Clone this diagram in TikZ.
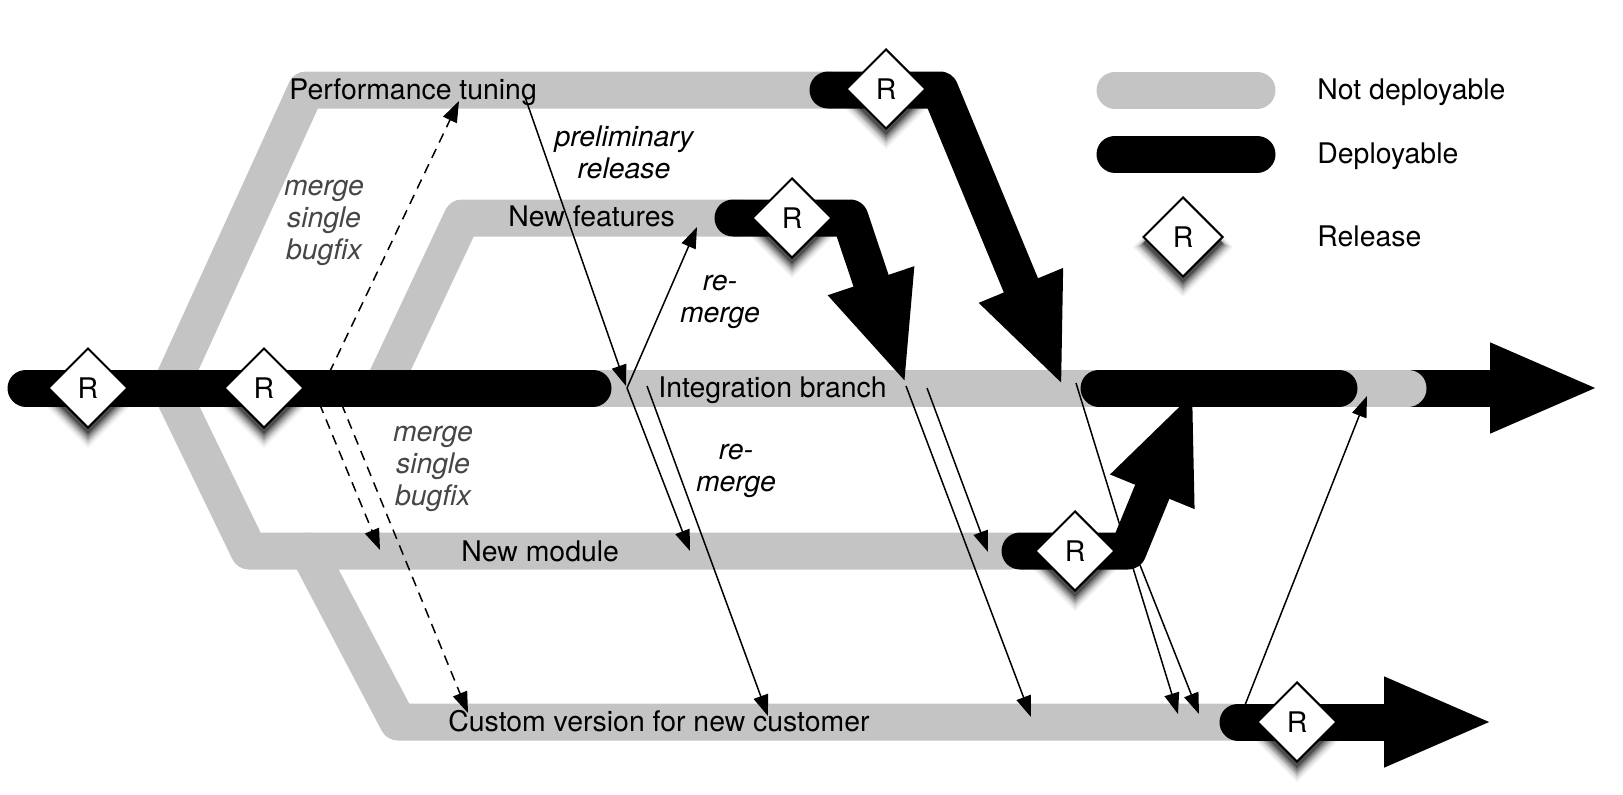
\documentclass[tikz,border=0pt]{standalone}
\usepackage{fontspec}
\setmainfont{TeX Gyre Heros}
\usepackage{tikz}
\usetikzlibrary{positioning}
\usetikzlibrary{arrows.meta}
\usetikzlibrary{shapes.geometric}
\usetikzlibrary{shadows}

\definecolor{notdeploy}{RGB}{196,196,196}
\definecolor{mergegray}{RGB}{70,70,70}

\tikzset{
	grayband/.style={notdeploy, line width=18.5pt, line cap=round, line join=round},
	blackband/.style={black, line width=18.5pt, line cap=round, line join=round},
	bigarrow/.style={blackband, -{Triangle[length=55pt, width=41pt]}},
	relshadow/.style={
		general shadow={fill=black, opacity=0.06, shadow scale=1.26, shadow yshift=-4pt},
		general shadow={fill=black, opacity=0.08, shadow scale=1.20, shadow yshift=-4pt},
		general shadow={fill=black, opacity=0.12, shadow scale=1.14, shadow yshift=-4pt},
		general shadow={fill=black, opacity=0.18, shadow scale=1.09, shadow yshift=-4pt},
		general shadow={fill=black, opacity=0.25, shadow scale=1.05, shadow yshift=-3.5pt},
		general shadow={fill=black, opacity=0.35, shadow scale=1.01, shadow yshift=-3pt}},
	relnode/.style={diamond, aspect=1, draw=black, fill=white, line width=1pt, minimum size=40pt, inner sep=0pt, relshadow},
	thinarrow/.style={line width=0.75pt, -{Triangle[length=10.5pt, width=7.5pt]}},
	dasharrow/.style={thinarrow, dash pattern=on 5pt off 3.5pt},
	branchtext/.style={anchor=base west, inner sep=0pt},
	note/.style={font=\fontsize{14.2}{16}\selectfont\itshape, align=center},
}

\begin{document}
\begin{tikzpicture}[x=0.5pt, y=-0.5pt, font=\fontsize{14.2}{16}\selectfont]
				\useasboundingbox (0,0) rectangle (1623,794);

				%Nodes
				\coordinate      (intStart) 	at 	(26,388);
				\coordinate      (intFork) 	at 	(170,388);
				\coordinate      (intStop) 	at 	(593,388);
				\coordinate      (intGrayEnd) 	at 	(1408,388);
				\coordinate      (intDepA) 	at 	(1099,388);
				\coordinate      (intDepB) 	at 	(1339,388);
				\coordinate      (intShaft) 	at 	(1390,388);
				\coordinate      (intTip) 	at 	(1600,388);

				\coordinate      (perfCorner) 	at 	(306,90);
				\coordinate      (perfGrayEnd) 	at 	(830,90);
				\coordinate      (perfDep) 	at 	(828,90);
				\coordinate      (perfBend) 	at 	(940,90);
				\coordinate      (perfTip) 	at 	(1063,387);

				\coordinate      (featFork) 	at 	(382,388);
				\coordinate      (featCorner) 	at 	(462,218);
				\coordinate      (featGrayEnd) 	at 	(740,218);
				\coordinate      (featDep) 	at 	(733,218);
				\coordinate      (featBend) 	at 	(850,218);
				\coordinate      (featTip) 	at 	(906,385);

				\coordinate      (modCorner) 	at 	(249,551);
				\coordinate      (modGrayEnd) 	at 	(1010,551);
				\coordinate      (modDep) 	at 	(1020,551);
				\coordinate      (modBend) 	at 	(1128,551);
				\coordinate      (modTip) 	at 	(1194,390);

				\coordinate      (custFork) 	at 	(308,551);
				\coordinate      (custCorner) 	at 	(398,722);
				\coordinate      (custGrayEnd) 	at 	(1230,722);
				\coordinate      (custDep) 	at 	(1238,722);
				\coordinate      (custTip) 	at 	(1494,722);

				%Branches
				\draw[blackband, line cap=butt, -{Triangle[length=55pt, width=41pt]}] (intShaft) -- (intTip);
				\draw[grayband] (perfGrayEnd) -- (perfCorner) -- (intFork) -- (modCorner) -- (modGrayEnd);
				\draw[grayband] (intFork) -- (intGrayEnd);
				\draw[grayband] (featFork) -- (featCorner) -- (featGrayEnd);
				\draw[grayband] (custFork) -- (custCorner) -- (custGrayEnd);

				\draw[blackband] (intStart) -- (intStop);
				\draw[bigarrow] (perfDep) -- (perfBend) -- (perfTip);
				\draw[bigarrow] (featDep) -- (featBend) -- (featTip);
				\draw[bigarrow] (modDep) -- (modBend) -- (modTip);
				\draw[blackband] (intDepA) -- (intDepB);
				\draw[bigarrow, line cap=round] (custDep) -- (custTip);

				%Releases
				\node[relnode] (relA) at (88,388) {R};
				\node[relnode] (relB) at (264,388) {R};
				\node[relnode] (relPerf) at (886,89) {R};
				\node[relnode] (relFeat) at (792,218) {R};
				\node[relnode] (relMod) at (1075,551) {R};
				\node[relnode] (relCust) at (1297,722) {R};

				%Merges
				\coordinate      (prelimA) 	at 	(525,97);
				\coordinate      (prelimB) 	at 	(626,386);
				\coordinate      (remergeA) 	at 	(627,388);
				\coordinate      (remergeB) 	at 	(697,227);
				\coordinate      (toModA) 	at 	(690,551);
				\coordinate      (toCustA) 	at 	(768,716);
				\coordinate      (intNearA) 	at 	(647,386);
				\coordinate      (featOutA) 	at 	(906,386);
				\coordinate      (featOutB) 	at 	(927,388);
				\coordinate      (toCustB) 	at 	(1031,717);
				\coordinate      (toModB) 	at 	(988,552);
				\coordinate      (perfOut) 	at 	(1076,383);
				\coordinate      (modOut) 	at 	(1138,560);
				\coordinate      (toCustC) 	at 	(1178,714);
				\coordinate      (toCustD) 	at 	(1199,714);
				\coordinate      (custOut) 	at 	(1245,705);
				\coordinate      (intBack) 	at 	(1367,396);
				\coordinate      (fixUpA) 	at 	(322,388);
				\coordinate      (fixUpB) 	at 	(459,101);
				\coordinate      (fixModA) 	at 	(313,388);
				\coordinate      (fixModB) 	at 	(380,550);
				\coordinate      (fixCustA) 	at 	(335,388);
				\coordinate      (fixCustB) 	at 	(468,713);

				\draw[thinarrow] (prelimA) -- (prelimB);
				\draw[thinarrow] (remergeA) -- (remergeB);
				\draw[thinarrow] (remergeA) -- (toModA);
				\draw[thinarrow] (intNearA) -- (toCustA);
				\draw[thinarrow] (featOutA) -- (toCustB);
				\draw[thinarrow] (featOutB) -- (toModB);
				\draw[thinarrow] (perfOut) -- (toCustC);
				\draw[thinarrow] (modOut) -- (toCustD);
				\draw[thinarrow] (custOut) -- (intBack);
				\draw[dasharrow] (fixUpA) -- (fixUpB);
				\draw[dasharrow] (fixModA) -- (fixModB);
				\draw[dasharrow] (fixCustA) -- (fixCustB);

				%Labels
				\node[branchtext] (perfText) at (289,99) {Performance tuning};
				\node[branchtext] (featText) at (508,226) {New features};
				\node[branchtext] (intText) at (658,397) {Integration branch};
				\node[branchtext] (modText) at (461,561) {New module};
				\node[branchtext] (custText) at (448,731) {Custom version for new customer};

				\node[note, mergegray] (fixNoteA) at (324,223) {merge\\single\\bugfix};
				\node[note, mergegray] (fixNoteB) at (433,469) {merge\\single\\bugfix};
				\node[note] (prelimNote) at (624,152) {preliminary\\release};
				\node[note] (remergeNoteA) at (720,302) {re-\\merge};
				\node[note] (remergeNoteB) at (736,471) {re-\\merge};

				%Legend
				\coordinate      (keyGrayA) 	at 	(1115,90);
				\coordinate      (keyGrayB) 	at 	(1257,90);
				\coordinate      (keyBlackA) 	at 	(1115,154);
				\coordinate      (keyBlackB) 	at 	(1257,154);
				\draw[grayband] (keyGrayA) -- (keyGrayB);
				\draw[blackband] (keyBlackA) -- (keyBlackB);
				\node[relnode] (relKey) at (1183,237) {R};
				\node[branchtext] (keyGrayText) at (1317,99) {Not deployable};
				\node[branchtext] (keyBlackText) at (1317,163) {Deployable};
				\node[branchtext] (keyRelText) at (1317,246) {Release};

			\end{tikzpicture}
\end{document}
